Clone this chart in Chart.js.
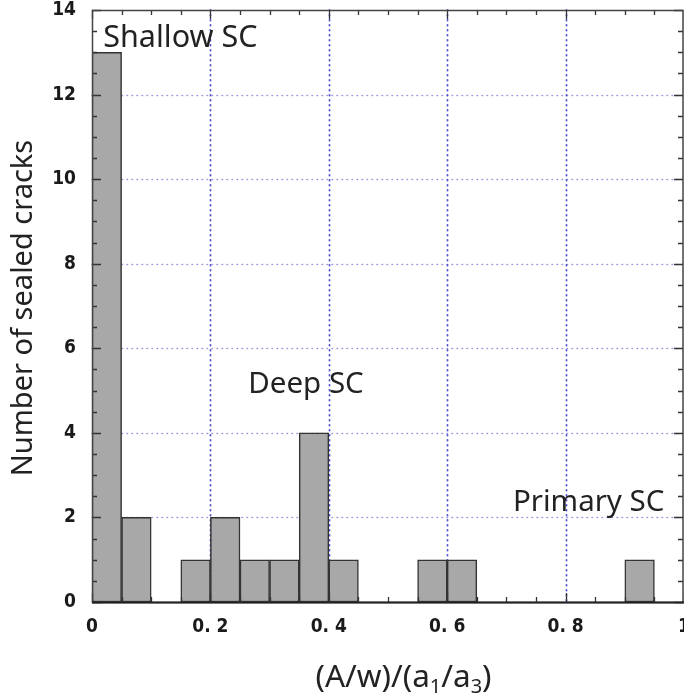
<!DOCTYPE html>
<html>
<head>
<meta charset="utf-8">
<script src="https://cdn.jsdelivr.net/npm/chart.js@4/dist/chart.umd.min.js"></script>
<style>
  html, body { margin: 0; padding: 0; background: #fff; }
  #wrap { width: 684px; height: 698px; }
</style>
</head>
<body>
<div id="wrap"><canvas id="c" width="684" height="698"></canvas></div>
<script>
// ---- data ----
const binStarts = [0, 0.05, 0.15, 0.20, 0.25, 0.30, 0.35, 0.40, 0.55, 0.60, 0.90];
const binWidth = 0.05;
const crackCounts = [13, 2, 1, 2, 1, 1, 4, 1, 1, 1, 1];
const xTickValues = [0, 0.2, 0.4, 0.6, 0.8, 1];
const xTickLabels = ['0', '0. 2', '0. 4', '0. 6', '0. 8', '1'];
const yTickValues = [0, 2, 4, 6, 8, 10, 12, 14];
const yTickLabels = ['0', '2', '4', '6', '8', '10', '12', '14'];
const regionLabels = ['Shallow SC', 'Deep SC', 'Primary SC'];
const yTitle = 'Number of sealed cracks';

const points = binStarts.map((s, i) => ({ x: s + binWidth / 2, y: crackCounts[i] }));

const TEXT_FONT = '"Noto Sans", "DejaVu Sans", sans-serif';
const TICK_FONT = '"DejaVu Sans Condensed", "DejaVu Sans", sans-serif';

const decor = {
  id: 'decor',
  beforeDatasetsDraw(chart) {
    const { ctx, chartArea: a, scales: { x, y } } = chart;
    ctx.save();
    ctx.lineCap = 'round';
    ctx.strokeStyle = 'rgba(120,120,210,0.75)';
    ctx.lineWidth = 1.6;
    ctx.setLineDash([0.5, 4.5]);
    for (const v of yTickValues) {
      if (v === 0 || v === 14) continue;
      const py = Math.round(y.getPixelForValue(v)) + 0.5;
      ctx.beginPath(); ctx.moveTo(a.left, py); ctx.lineTo(a.right, py); ctx.stroke();
    }
    ctx.strokeStyle = 'rgba(70,70,210,0.95)';
    ctx.lineWidth = 1.8;
    for (const v of xTickValues) {
      if (v === 0 || v === 1) continue;
      const px = Math.round(x.getPixelForValue(v)) + 0.5;
      ctx.beginPath(); ctx.moveTo(px, a.top); ctx.lineTo(px, a.bottom); ctx.stroke();
    }
    ctx.restore();
  },
  afterDatasetsDraw(chart) {
    const { ctx, chartArea: a, scales: { x, y } } = chart;
    ctx.save();
    ctx.strokeStyle = '#333';
    ctx.lineWidth = 1.3;
    for (let i = 0; i <= 20; i++) {
      const v = i * 0.05;
      const px = Math.round(x.getPixelForValue(v)) + 0.5;
      const len = (i % 4 === 0) ? 9 : 5;
      ctx.beginPath();
      ctx.moveTo(px, a.bottom); ctx.lineTo(px, a.bottom - len);
      ctx.moveTo(px, a.top); ctx.lineTo(px, a.top + len);
      ctx.stroke();
    }
    for (let i = 0; i <= 28; i++) {
      const v = i * 0.5;
      const py = Math.round(y.getPixelForValue(v)) + 0.5;
      const len = (i % 4 === 0) ? 9 : 5;
      ctx.beginPath();
      ctx.moveTo(a.left, py); ctx.lineTo(a.left + len, py);
      ctx.moveTo(a.right - 1, py); ctx.lineTo(a.right - 1 - len, py);
      ctx.stroke();
    }
    ctx.lineWidth = 1.5;
    ctx.strokeStyle = '#444';
    ctx.strokeRect(a.left + 0.5, a.top + 0.5, a.right - a.left - 1.5, a.bottom - a.top);
    ctx.lineWidth = 2.2;
    ctx.strokeStyle = '#222';
    ctx.beginPath(); ctx.moveTo(a.left, a.bottom + 0.5); ctx.lineTo(a.right, a.bottom + 0.5); ctx.stroke();
    ctx.restore();
  },
  afterDraw(chart) {
    const { ctx, chartArea: a, scales: { x, y } } = chart;
    ctx.save();
    ctx.fillStyle = '#222';
    ctx.textBaseline = 'alphabetic';
    ctx.textAlign = 'left';
    const anchors = [[0.019, 13.12], [0.264, 4.94], [0.711, 2.15]];
    const sizes = [30.5, 29.5, 29.5];
    regionLabels.forEach((t, i) => {
      ctx.font = sizes[i] + 'px ' + TEXT_FONT;
      ctx.fillText(t, x.getPixelForValue(anchors[i][0]), y.getPixelForValue(anchors[i][1]));
    });
    ctx.font = '29px ' + TEXT_FONT;
    ctx.save();
    ctx.translate(32, (a.top + a.bottom) / 2 + 2);
    ctx.rotate(-Math.PI / 2);
    ctx.textAlign = 'center';
    ctx.fillText(yTitle, 0, 0);
    ctx.restore();
    const parts = [['(A/w)/(a', 0], ['1', 1], ['/a', 0], ['3', 1], [')', 0]];
    const big = '31.5px ' + TEXT_FONT, small = '20px ' + TEXT_FONT;
    let total = 0;
    for (const [t, s] of parts) { ctx.font = s ? small : big; total += ctx.measureText(t).width; }
    let cx = 403.5 - total / 2;
    const base = 687;
    for (const [t, s] of parts) {
      ctx.font = s ? small : big;
      ctx.fillText(t, cx, s ? base + 6 : base);
      cx += ctx.measureText(t).width;
    }
    ctx.restore();
  }
};

new Chart(document.getElementById('c'), {
  type: 'bar',
  data: {
    datasets: [{
      data: points,
      backgroundColor: '#a8a8a8',
      borderColor: '#333',
      borderWidth: 1.5,
      borderSkipped: false,
      barPercentage: 1,
      categoryPercentage: 1
    }]
  },
  options: {
    responsive: false,
    animation: false,
    layout: { padding: { top: 10, right: 0, left: 0, bottom: 0 } },
    plugins: { legend: { display: false }, tooltip: { enabled: false } },
    scales: {
      x: {
        type: 'linear', min: 0, max: 1, offset: false,
        grid: { display: false, offset: false, drawTicks: false },
        border: { display: false },
        afterBuildTicks: s => { s.ticks = xTickValues.map(v => ({ value: v })); },
        afterFit: s => { s.height = 96; s.paddingLeft = 0; s.paddingRight = 0; },
        ticks: {
          padding: 14, maxRotation: 0, autoSkip: false, color: '#1a1a1a',
          font: { family: TICK_FONT, size: 19, weight: 'bold' },
          callback: (v) => xTickLabels[xTickValues.findIndex(t => Math.abs(t - v) < 1e-9)]
        }
      },
      y: {
        min: 0, max: 14,
        grid: { display: false, drawTicks: false },
        border: { display: false },
        afterBuildTicks: s => { s.ticks = yTickValues.map(v => ({ value: v })); },
        afterFit: s => { s.width = 92; s.paddingTop = 0; s.paddingBottom = 0; },
        ticks: {
          padding: 16, color: '#1a1a1a', autoSkip: false,
          font: { family: TICK_FONT, size: 19, weight: 'bold' },
          callback: (v) => yTickLabels[yTickValues.indexOf(v)]
        }
      }
    }
  },
  plugins: [decor]
});
</script>
</body>
</html>
